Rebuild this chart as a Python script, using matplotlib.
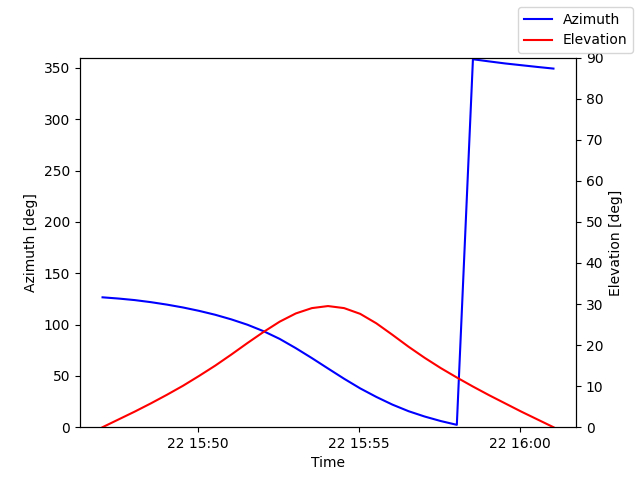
import numpy as np
import pandas as pd
import matplotlib
matplotlib.use("Agg")
import matplotlib.pyplot as plt

# pass samples every 30 s
times = pd.date_range("2023-03-22 15:47:03", "2023-03-22 16:01:03", freq="30s")

azimuth = [126.5, 125.3, 123.8, 121.8, 119.4, 116.6, 113.3, 109.5, 105.0,
           99.8, 93.5, 86.0, 77.0, 67.3, 57.2, 47.2, 37.8, 29.5, 22.0,
           15.6, 10.4, 6.0, 2.3, 358.4, 356.3, 354.3, 352.6, 350.9, 349.3]

elevation = [0.0, 1.9, 3.8, 5.8, 7.9, 10.1, 12.5, 15.0, 17.7, 20.5, 23.2,
             25.7, 27.7, 29.0, 29.5, 29.0, 27.6, 25.3, 22.5, 19.6, 16.9,
             14.4, 12.1, 9.9, 7.8, 5.8, 3.8, 1.9, 0.0]

fig, ax = plt.subplots(figsize=(6.4, 4.8), dpi=100)
ax.plot(times, azimuth, color="blue", label="Azimuth")
ax.set_ylim(0, 360)
ax.set_xlabel("Time")
ax.set_ylabel("Azimuth [deg]")

ax2 = ax.twinx()
ax2.plot(times, elevation, color="red", label="Elevation")
ax2.set_ylim(0, 90)
ax2.set_ylabel("Elevation [deg]")

fig.legend(loc="upper right")

plt.savefig("out.png", dpi=100)
